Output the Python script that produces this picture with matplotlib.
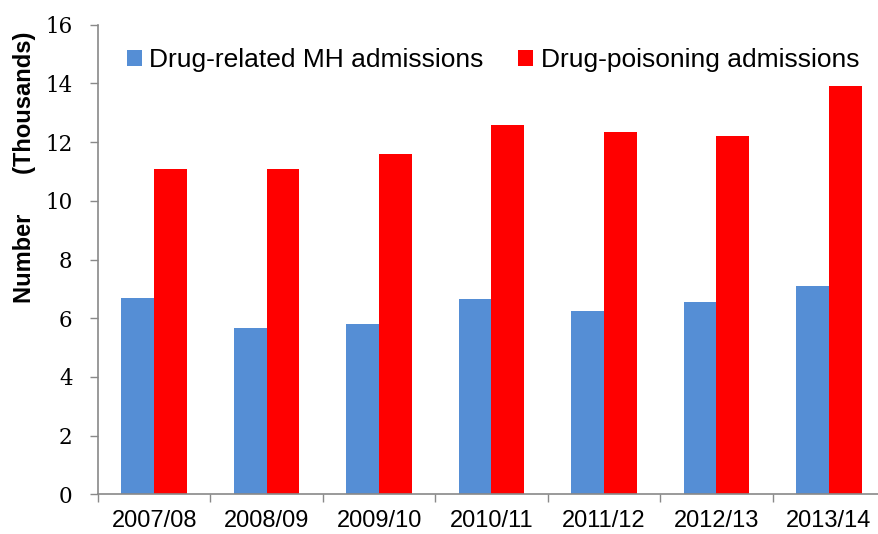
import matplotlib
matplotlib.use("Agg")
import matplotlib.pyplot as plt
import numpy as np

categories = ["2007/08", "2008/09", "2009/10", "2010/11", "2011/12", "2012/13", "2013/14"]
mh_admissions = [6.68, 5.68, 5.82, 6.65, 6.24, 6.57, 7.11]
poisoning_admissions = [11.09, 11.08, 11.60, 12.57, 12.34, 12.21, 13.92]
series_names = ["Drug-related MH admissions", "Drug-poisoning admissions"]
y_ticks = [0, 2, 4, 6, 8, 10, 12, 14, 16]

W, H = 879, 534
fig = plt.figure(figsize=(W / 100, H / 100), dpi=100)
ax = fig.add_axes([98 / W, (H - 494.3) / H, 787 / W, (494.3 - 24.8) / H])

x = np.arange(len(categories))
bw = 0.291
ax.bar(x - bw / 2, mh_admissions, bw, color="#558ED5", label=series_names[0])
ax.bar(x + bw / 2, poisoning_admissions, bw, color="#FF0000", label=series_names[1])

ax.set_xlim(-0.5, len(categories) - 0.5)
ax.set_ylim(0, 16)
ax.set_yticks(y_ticks)
ax.set_yticklabels([str(v) for v in y_ticks], family="DejaVu Serif", fontsize=15.5)
ax.set_xticks(np.arange(len(categories) + 1) - 0.5, minor=False)
ax.set_xticklabels([])
ax.set_xticks(x, minor=True)
ax.set_xticklabels(categories, minor=True, family="Liberation Sans", fontsize=17)
ax.tick_params(axis="x", which="minor", length=0, pad=11)
ax.tick_params(axis="x", which="major", length=8 * 0.72, width=1.0, color="#898989")
ax.tick_params(axis="y", length=8 * 0.72, width=1.0, color="#898989", pad=12.5)

for s in ["top", "right"]:
    ax.spines[s].set_visible(False)
for s in ["left", "bottom"]:
    ax.spines[s].set_color("#898989")
    ax.spines[s].set_linewidth(1.2)

fig.text(25 / W, (H - 167) / H, "Number      (Thousands)", rotation=90,
         ha="center", va="center", family="Liberation Sans", fontweight="bold", fontsize=17)

ax.legend(loc="upper left", bbox_to_anchor=(127 / W, (H - 48) / H),
          bbox_transform=fig.transFigure, ncol=2, frameon=False,
          prop={"family": "Liberation Sans", "size": 19},
          handlelength=0.55, handleheight=0.55, handletextpad=0.3,
          columnspacing=1.3, borderpad=0, borderaxespad=0)

fig.savefig("out.png", dpi=100)
